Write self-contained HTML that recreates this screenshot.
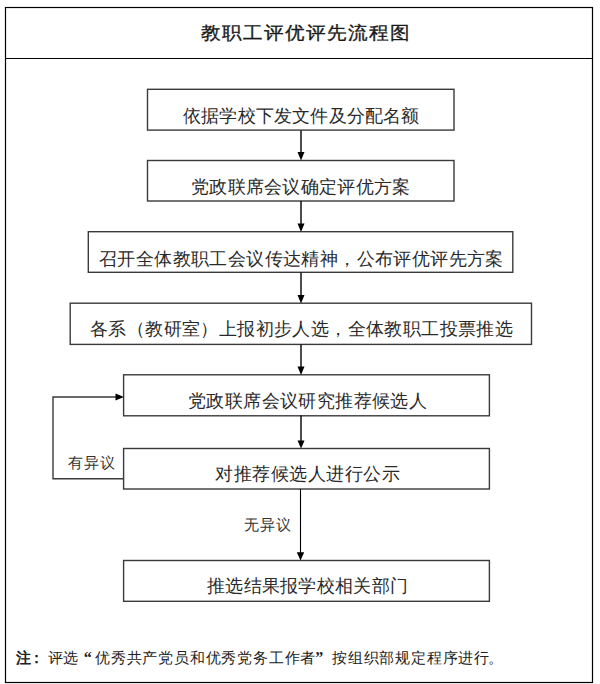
<!DOCTYPE html>
<html><head><meta charset="utf-8">
<style>
html,body{margin:0;padding:0;background:#fff;width:600px;height:684px;overflow:hidden;position:relative}
svg{position:absolute;left:0;top:0}
.t{position:absolute;white-space:nowrap;font-family:"Liberation Sans",sans-serif;color:#2a2a2a;}
.bx{font-size:18px;line-height:18px;letter-spacing:0.4px}
.title{font-size:20px;line-height:20px;font-weight:normal;-webkit-text-stroke:0.35px #1a1a1a;color:#1a1a1a;letter-spacing:0.9px;transform:scaleY(0.92);transform-origin:0 0}
.lab{font-size:15px;line-height:15px;color:#333;letter-spacing:1px}
.note{font-size:15px;line-height:15px;color:#222}
.q{font-family:"Liberation Serif",serif;font-weight:bold;font-size:16px}
.note span{display:inline-block;width:15.8px;text-align:left}
</style></head><body>
<svg width="600" height="684" viewBox="0 0 600 684">
  <g fill="none" stroke="#000" stroke-width="1.2">
    <rect x="5.5" y="7.5" width="587" height="675"/>
    <line x1="5" y1="58.5" x2="592" y2="58.5"/>
  </g>
  <g fill="none" stroke="#3a3a3a" stroke-width="1.4">
    <rect x="147.5" y="89.3" width="306.5" height="40.8"/>
    <rect x="147.5" y="160.5" width="306.5" height="40.5"/>
    <rect x="88.3" y="231.7" width="424.5" height="40.6"/>
    <rect x="70.2" y="303.2" width="461.3" height="41.2"/>
    <rect x="123.6" y="374.8" width="365.8" height="41"/>
    <rect x="123.6" y="448.5" width="365.8" height="40.5"/>
    <rect x="123.6" y="560.5" width="365.8" height="40.8"/>
  </g>
  <g stroke="#000" stroke-width="1.4" fill="none">
    <line x1="301" y1="130.5" x2="301" y2="153"/>
    <line x1="301" y1="201" x2="301" y2="224"/>
    <line x1="301" y1="272.5" x2="301" y2="296"/>
    <line x1="301" y1="344.5" x2="301" y2="367"/>
    <line x1="301" y1="415.5" x2="301" y2="441"/>
    <line x1="300.5" y1="489" x2="300.5" y2="553" stroke-width="1.1"/>
    <polyline points="124,478.8 53,478.8 53,397 116,397" stroke="#3a3a3a"/>
  </g>
  <g fill="#000">
    <polygon points="297.5,152 304.5,152 301,160.5"/>
    <polygon points="297.5,223.5 304.5,223.5 301,232"/>
    <polygon points="297.5,295 304.5,295 301,303.5"/>
    <polygon points="297.5,366.5 304.5,366.5 301,375"/>
    <polygon points="297.5,440.5 304.5,440.5 301,448.5"/>
    <polygon points="296.8,552.3 304.2,552.3 300.5,560.5"/>
    <polygon points="115.5,393.5 115.5,400.5 124,397"/>
  </g>
</svg>
<div class="t title" style="left:201px;top:23px;letter-spacing:1px">教职工评优评先流程图</div>
<div class="t bx" style="left:183px;top:107px;letter-spacing:0.2px">依据学校下发文件及分配名额</div>
<div class="t bx" style="left:191px;top:178px;letter-spacing:0.3px">党政联席会议确定评优方案</div>
<div class="t bx" style="left:99px;top:250px">召开全体教职工会议传达精神，公布评优评先方案</div>
<div class="t bx" style="left:90px;top:320px">各系（教研室）上报初步人选，全体教职工投票推选</div>
<div class="t bx" style="left:188px;top:392px">党政联席会议研究推荐候选人</div>
<div class="t bx" style="left:215px;top:465px;letter-spacing:0.55px">对推荐候选人进行公示</div>
<div class="t bx" style="left:207px;top:577px;letter-spacing:0.3px">推选结果报学校相关部门</div>
<div class="t lab" style="left:68px;top:455px">有异议</div>
<div class="t lab" style="left:244px;top:517px">无异议</div>
<div class="t note" style="left:16px;top:650px"><span style="font-weight:bold">注</span><span style="font-weight:bold;text-indent:-3px">：</span><span>评</span><span>选</span><span class="q" style="text-indent:4.5px">“</span><span>优</span><span>秀</span><span>共</span><span>产</span><span>党</span><span>员</span><span>和</span><span>优</span><span>秀</span><span>党</span><span>务</span><span>工</span><span>作</span><span>者</span><span class="q" style="text-indent:-1px">”</span><span>按</span><span>组</span><span>织</span><span>部</span><span>规</span><span>定</span><span>程</span><span>序</span><span>进</span><span>行</span><span style="text-indent:-2px">。</span></div>
</body></html>
